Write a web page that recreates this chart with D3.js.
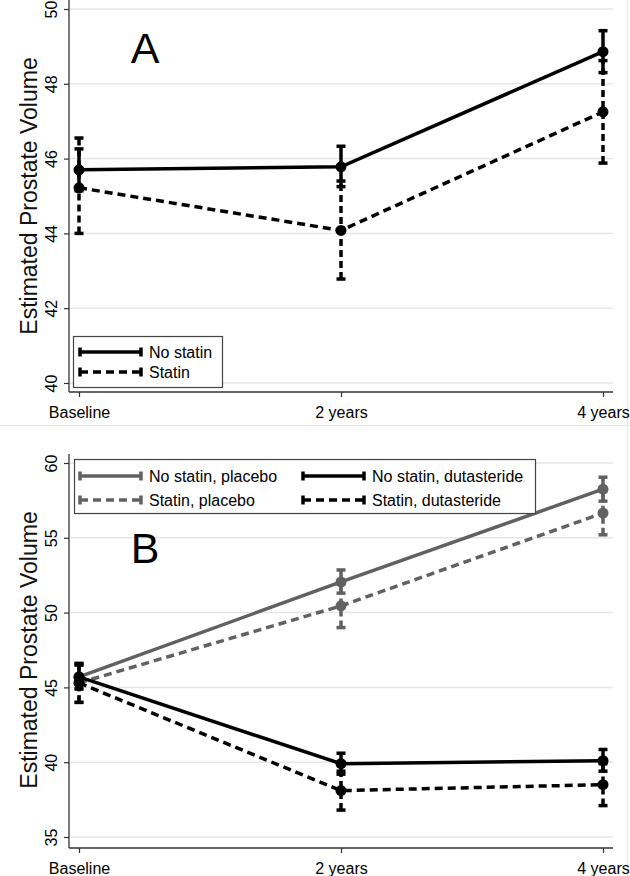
<!DOCTYPE html>
<html><head><meta charset="utf-8">
<script src="https://cdn.jsdelivr.net/npm/d3@7"></script>
<style>body{margin:0;background:#fff}svg{display:block;font-family:Arial,"Liberation Sans",sans-serif}</style>
</head><body><svg id="c" width="630" height="876"></svg>
<script>
const categories = ["Baseline", "2 years", "4 years"];
// Panel A
const aTicks = [40, 42, 44, 46, 48, 50];
const aNoStatin = [45.7, 45.78, 48.86];
const aNoStatinLo = [45.14, 45.25, 48.3];
const aNoStatinHi = [46.26, 46.33, 49.42];
const aStatin = [45.22, 44.08, 47.25];
const aStatinLo = [44.0, 42.78, 45.88];
const aStatinHi = [46.55, 45.4, 48.62];
// Panel B
const bTicks = [35, 40, 45, 50, 55, 60];
const bNoStatinPlacebo = [45.7, 52.05, 58.25];
const bNoStatinPlaceboLo = [44.9, 51.3, 57.45];
const bNoStatinPlaceboHi = [46.5, 52.85, 59.05];
const bStatinPlacebo = [45.3, 50.45, 56.65];
const bStatinPlaceboLo = [44.0, 49.0, 55.2];
const bStatinPlaceboHi = [46.6, 51.9, 58.1];
const bNoStatinDut = [45.7, 39.9, 40.1];
const bNoStatinDutLo = [44.9, 39.2, 39.4];
const bNoStatinDutHi = [46.5, 40.6, 40.85];
const bStatinDut = [45.3, 38.1, 38.5];
const bStatinDutLo = [44.0, 36.8, 37.1];
const bStatinDutHi = [46.6, 39.4, 39.9];

const svg = d3.select("#c");
const GRAY = "#616161", BLACK = "#000";
const DASH = "8,5";
const x = d3.scalePoint().domain(categories).range([79, 603]);

// panel separators
svg.append("line").attr("x1",0).attr("x2",630).attr("y1",425.5).attr("y2",425.5).attr("stroke","#e4e4e4");
svg.append("line").attr("x1",627.5).attr("x2",627.5).attr("y1",0).attr("y2",876).attr("stroke","#e8e8e8");

function panel(cfg){
  const g = svg.append("g");
  const y = d3.scaleLinear().domain(cfg.domain).range(cfg.range);
  // gridlines
  g.selectAll("line.grid").data(cfg.ticks).join("line")
    .attr("x1",70).attr("x2",613).attr("y1",d=>y(d)).attr("y2",d=>y(d))
    .attr("stroke","#e6e6e6").attr("stroke-width",1.5);
  // y axis
  const ya = g.append("g").attr("transform","translate(69,0)")
    .call(d3.axisLeft(y).tickValues(cfg.ticks).tickSize(5).tickFormat(d3.format("d")));
  ya.select(".domain").attr("d",`M0,${cfg.axTop}V${cfg.axBot}`).attr("stroke","#333").attr("stroke-width",1.3);
  ya.selectAll(".tick line").attr("stroke","#333").attr("stroke-width",1.2);
  ya.selectAll(".tick text").attr("font-size",16).attr("fill","#000")
    .attr("x",0).attr("dy",0).attr("text-anchor","middle")
    .attr("transform","translate(-12,0) rotate(-90)");
  // x axis
  const xa = g.append("g").attr("transform",`translate(0,${cfg.axBot})`)
    .call(d3.axisBottom(x).tickSize(5).tickPadding(6));
  xa.select(".domain").attr("d",`M69,0H613`).attr("stroke","#333").attr("stroke-width",1.3);
  xa.selectAll(".tick line").attr("stroke","#333").attr("stroke-width",1.2);
  xa.selectAll(".tick text").attr("font-size",16).attr("fill","#000").attr("dy","0.95em");
  // y title
  g.append("text").attr("transform",`translate(37,${(cfg.range[0]+cfg.range[1])/2}) rotate(-90)`)
    .attr("text-anchor","middle").attr("font-size",23).attr("fill","#111").text("Estimated Prostate Volume");
  // panel letter
  g.append("text").attr("x",145).attr("y",cfg.letterY).attr("text-anchor","middle")
    .attr("font-size",43).attr("fill","#000").text(cfg.letter);
  // series
  cfg.series.forEach(s=>{
    const pts = categories.map((c,i)=>({c, v:s.v[i], lo:s.lo[i], hi:s.hi[i]}));
    const sg = g.append("g");
    sg.append("path").datum(pts)
      .attr("d", d3.line().x(d=>x(d.c)).y(d=>y(d.v)))
      .attr("fill","none").attr("stroke",s.color).attr("stroke-width",3.5)
      .attr("stroke-dasharray", s.dash ? DASH : null);
    sg.selectAll("line.eb").data(pts).join("line")
      .attr("x1",d=>x(d.c)).attr("x2",d=>x(d.c)).attr("y1",d=>y(d.lo)).attr("y2",d=>y(d.hi))
      .attr("stroke",s.color).attr("stroke-width",3.5).attr("stroke-dasharray", s.dash ? "7,4" : null);
    ["lo","hi"].forEach(k=>{
      sg.selectAll("line.cap"+k).data(pts).join("line")
        .attr("x1",d=>x(d.c)-4.5).attr("x2",d=>x(d.c)+4.5).attr("y1",d=>y(d[k])).attr("y2",d=>y(d[k]))
        .attr("stroke",s.color).attr("stroke-width",3.5);
    });
    sg.selectAll("circle").data(pts).join("circle")
      .attr("cx",d=>x(d.c)).attr("cy",d=>y(d.v)).attr("r",5.5).attr("fill",s.color);
  });
  // legend
  const L = cfg.legend;
  g.append("rect").attr("x",L.x).attr("y",L.y).attr("width",L.w).attr("height",L.h)
    .attr("fill","#fff").attr("stroke","#444").attr("stroke-width",1.2);
  L.items.forEach(it=>{
    const lg = g.append("g");
    lg.append("line").attr("x1",it.x).attr("x2",it.x+61).attr("y1",it.y).attr("y2",it.y)
      .attr("stroke",it.color).attr("stroke-width",3.5).attr("stroke-dasharray",it.dash?DASH:null);
    [it.x, it.x+61].forEach(xx=>lg.append("line").attr("x1",xx).attr("x2",xx).attr("y1",it.y-4.5).attr("y2",it.y+4.5)
      .attr("stroke",it.color).attr("stroke-width",3.5));
    lg.append("text").attr("x",it.x+69).attr("y",it.y).attr("dy","0.36em").attr("font-size",16)
      .attr("fill","#000").text(it.label);
  });
}

panel({
  domain:[40,50], range:[383,9], ticks:aTicks, axTop:0, axBot:392, letter:"A", letterY:63,
  series:[
    {v:aNoStatin, lo:aNoStatinLo, hi:aNoStatinHi, color:BLACK, dash:false},
    {v:aStatin, lo:aStatinLo, hi:aStatinHi, color:BLACK, dash:true}
  ],
  legend:{x:73.5,y:336.5,w:149,h:51, items:[
    {x:80,y:352,color:BLACK,dash:false,label:"No statin"},
    {x:80,y:372,color:BLACK,dash:true,label:"Statin"}
  ]}
});

panel({
  domain:[35,60], range:[837,463], ticks:bTicks, axTop:454, axBot:848, letter:"B", letterY:563,
  series:[
    {v:bNoStatinPlacebo, lo:bNoStatinPlaceboLo, hi:bNoStatinPlaceboHi, color:GRAY, dash:false},
    {v:bStatinPlacebo, lo:bStatinPlaceboLo, hi:bStatinPlaceboHi, color:GRAY, dash:true},
    {v:bNoStatinDut, lo:bNoStatinDutLo, hi:bNoStatinDutHi, color:BLACK, dash:false},
    {v:bStatinDut, lo:bStatinDutLo, hi:bStatinDutHi, color:BLACK, dash:true}
  ],
  legend:{x:74.5,y:459.5,w:461,h:54, items:[
    {x:80,y:476,color:GRAY,dash:false,label:"No statin, placebo"},
    {x:80,y:500,color:GRAY,dash:true,label:"Statin, placebo"},
    {x:303,y:476,color:BLACK,dash:false,label:"No statin, dutasteride"},
    {x:303,y:500,color:BLACK,dash:true,label:"Statin, dutasteride"}
  ]}
});
</script></body></html>
